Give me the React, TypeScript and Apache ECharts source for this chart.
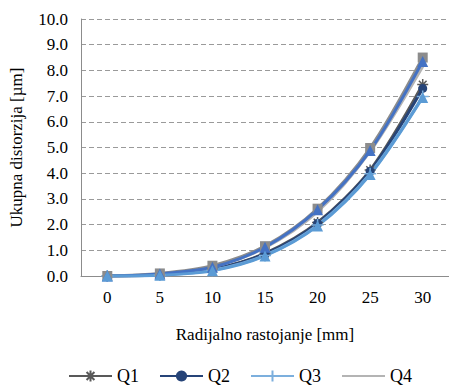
import React, { useEffect, useRef } from "react";
import * as echarts from "echarts";

const categories = ["0", "5", "10", "15", "20", "25", "30"];
const yTicks = [0, 1, 2, 3, 4, 5, 6, 7, 8, 9, 10];

const q1 = [0, 0.05, 0.26, 0.88, 2.08, 4.12, 7.45];
const q2 = [0, 0.05, 0.25, 0.86, 2.05, 4.08, 7.3];
const q3 = [0, 0.04, 0.22, 0.8, 1.98, 3.98, 6.98];
const q4 = [0, 0.08, 0.35, 1.1, 2.5, 4.85, 8.15];
const q5 = [0, 0.1, 0.4, 1.16, 2.62, 4.98, 8.5];
const q6 = [0, 0.08, 0.34, 1.12, 2.58, 4.88, 8.35];
const q7 = [0, 0.03, 0.2, 0.78, 1.95, 3.95, 6.95];

const FONT = "Liberation Serif";

const ASTERISK = "path://M0,5L10,5M5,0L5,10M1.5,1.5L8.5,8.5M8.5,1.5L1.5,8.5";
const PLUS = "path://M0,5L10,5M5,0L5,10";

function mk(name: string, data: number[], color: string, symbol: string, size: number, stroke = false) {
  return {
    name,
    type: "line",
    data,
    smooth: 0.3,
    symbol,
    symbolSize: size,
    lineStyle: { color, width: 3 },
    itemStyle: stroke
      ? { color, borderColor: color, borderWidth: 1.5 }
      : { color, borderWidth: 0 },
    emphasis: { disabled: true },
  };
}

export default function App() {
  const ref = useRef<HTMLDivElement>(null);
  useEffect(() => {
    if (!ref.current) return;
    const chart = echarts.init(ref.current, undefined, { renderer: "svg" });
    chart.setOption({
      animation: false,
      backgroundColor: "#ffffff",
      textStyle: { fontFamily: FONT },
      grid: { left: 80, top: 19, width: 380, height: 257 },
      legend: {
        data: ["Q1", "Q2", "Q3", { name: "Q4", itemStyle: { opacity: 0 } }],
        left: 63,
        top: 362,
        itemWidth: 43,
        itemHeight: 14,
        itemGap: 20,
        textStyle: { fontFamily: FONT, fontSize: 18, color: "#000" },
      },
      xAxis: {
        type: "category",
        data: categories,
        boundaryGap: true,
        axisLine: { lineStyle: { color: "#8c8c8c", width: 1 } },
        axisTick: { show: false },
        axisLabel: { fontFamily: FONT, fontSize: 17, color: "#000", margin: 13 },
        name: "Radijalno rastojanje [mm]",
        nameLocation: "middle",
        nameGap: 50,
        nameTextStyle: { fontFamily: FONT, fontSize: 17, color: "#000" },
      },
      yAxis: {
        type: "value",
        min: 0,
        max: 10,
        interval: 1,
        axisLine: { show: true, lineStyle: { color: "#8c8c8c", width: 1 } },
        axisTick: { show: false },
        splitLine: { lineStyle: { color: "#9a9a9a", type: [5, 3], width: 1 } },
        axisLabel: {
          fontFamily: FONT,
          fontSize: 17,
          color: "#000",
          margin: 13,
          formatter: (v: number) => (yTicks.includes(v) ? v.toFixed(1) : ""),
        },
        name: "Ukupna distorzija [µm]",
        nameLocation: "middle",
        nameGap: 56,
        nameTextStyle: { fontFamily: FONT, fontSize: 17, color: "#000" },
      },
      series: [
        mk("Q1", q1, "#595959", ASTERISK, 11, true),
        mk("Q2", q2, "#264478", "circle", 9),
        mk("Q3", q3, "#7cafdd", PLUS, 12, true),
        mk("Q4", q4, "#b4b4b4", "none", 0),
        mk("Q5", q5, "#8c8c8c", "rect", 10),
        mk("Q6", q6, "#4472c4", "triangle", 11),
        mk("Q7", q7, "#5b9bd5", "triangle", 11),
      ],
    });
    return () => chart.dispose();
  }, []);
  return (
    <div
      ref={ref}
      style={{ position: "absolute", left: 0, top: 0, width: 449, height: 389, overflow: "hidden" }}
    />
  );
}
